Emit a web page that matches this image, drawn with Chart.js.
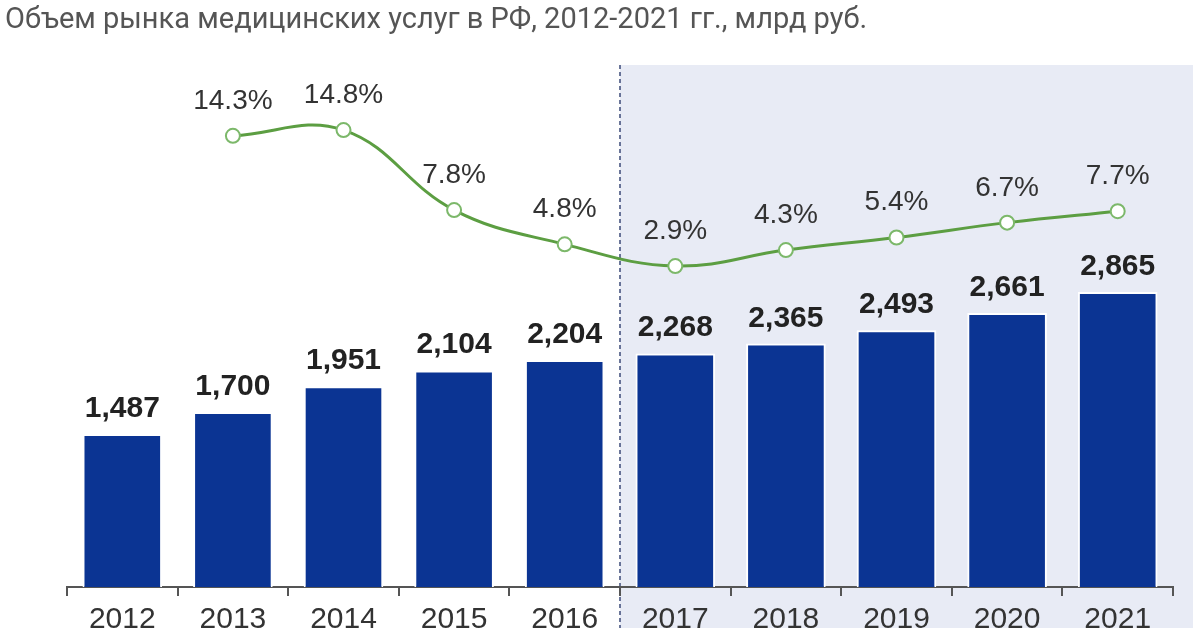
<!DOCTYPE html>
<html>
<head>
<meta charset="utf-8">
<script src="https://cdn.jsdelivr.net/npm/chart.js@4"></script>
<style>
  body { margin: 0; background: #fff; }
  #wrap { position: relative; width: 1200px; height: 628px; overflow: hidden; }
  #title { position: absolute; left: 5px; top: 1px; font: 29px Roboto, sans-serif; color: #555; white-space: nowrap; }
  canvas { position: absolute; left: 0; top: 0; }
</style>
</head>
<body>
<div id="wrap">
  <canvas id="chart" width="1200" height="628"></canvas>
  <div id="title">Объем рынка медицинских услуг в РФ, 2012-2021 гг., млрд руб.</div>
</div>
<script>
// данные
const years = ["2012", "2013", "2014", "2015", "2016", "2017", "2018", "2019", "2020", "2021"];
const volume = [1487, 1700, 1951, 2104, 2204, 2268, 2365, 2493, 2661, 2865];
const growth = [null, 14.3, 14.8, 7.8, 4.8, 2.9, 4.3, 5.4, 6.7, 7.7];
const forecastFrom = "2017";

// фон прогноза + пунктир (рисуем до осей)
const shadePlugin = {
  id: "shade",
  beforeDraw(chart) {
    const { ctx, chartArea, scales } = chart;
    const x = scales.x;
    const i = years.indexOf(forecastFrom);
    const left = (x.getPixelForValue(i - 1) + x.getPixelForValue(i)) / 2;
    ctx.save();
    ctx.fillStyle = "#e8ebf5";
    ctx.fillRect(left, chartArea.top, chartArea.right + 20 - left, chart.height - chartArea.top);
    ctx.strokeStyle = "#3b4a78";
    ctx.lineWidth = 1.5;
    ctx.setLineDash([4, 3]);
    ctx.beginPath();
    ctx.moveTo(left, chartArea.top);
    ctx.lineTo(left, chart.height);
    ctx.stroke();
    ctx.restore();
  }
};

// подписи значений
const labelsPlugin = {
  id: "labels",
  afterDatasetsDraw(chart) {
    const ctx = chart.ctx;
    ctx.save();
    ctx.textAlign = "center";
    ctx.textBaseline = "alphabetic";
    chart.getDatasetMeta(1).data.forEach((bar, i) => {
      ctx.font = "bold 30px Arial, 'Liberation Sans', sans-serif";
      ctx.fillStyle = "#222";
      ctx.fillText(volume[i].toLocaleString("en-US"), bar.x, bar.y - 17);
    });
    chart.getDatasetMeta(0).data.forEach((pt, i) => {
      if (growth[i] == null) return;
      ctx.font = "28px Arial, 'Liberation Sans', sans-serif";
      ctx.fillStyle = "#333";
      ctx.fillText(growth[i].toFixed(1) + "%", pt.x, pt.y - 27);
    });
    ctx.restore();
  }
};

new Chart(document.getElementById("chart"), {
  data: {
    labels: years,
    datasets: [
      {
        type: "line",
        data: growth,
        yAxisID: "y2",
        borderColor: "#5c9e42",
        borderWidth: 3,
        tension: 0.4,
        pointRadius: 7,
        pointBorderWidth: 2,
        pointBackgroundColor: "#fff",
        pointBorderColor: "#7cb86a",
        order: 0
      },
      {
        type: "bar",
        data: volume,
        yAxisID: "y",
        backgroundColor: "#0b3493",
        borderColor: "#fff",
        borderWidth: 2,
        categoryPercentage: 0.72,
        barPercentage: 1,
        order: 1
      }
    ]
  },
  options: {
    responsive: false,
    animation: false,
    layout: { padding: { left: 67, right: 27, top: 65, bottom: 0 } },
    plugins: { legend: { display: false }, tooltip: { enabled: false } },
    scales: {
      x: {
        grid: { display: true, offset: true, drawOnChartArea: false, drawTicks: true, tickLength: 9, color: "#555", lineWidth: 2 },
        border: { display: true, color: "#555", width: 2 },
        ticks: { color: "#333", font: { size: 30, family: "Arial, 'Liberation Sans', sans-serif" }, padding: 6 },
        afterFit(s) { s.height = 41; }
      },
      y: { display: false, min: 0, max: 5070 },
      y2: { display: false, min: -25.2, max: 20.5 }
    }
  },
  plugins: [shadePlugin, labelsPlugin]
});
</script>
</body>
</html>
